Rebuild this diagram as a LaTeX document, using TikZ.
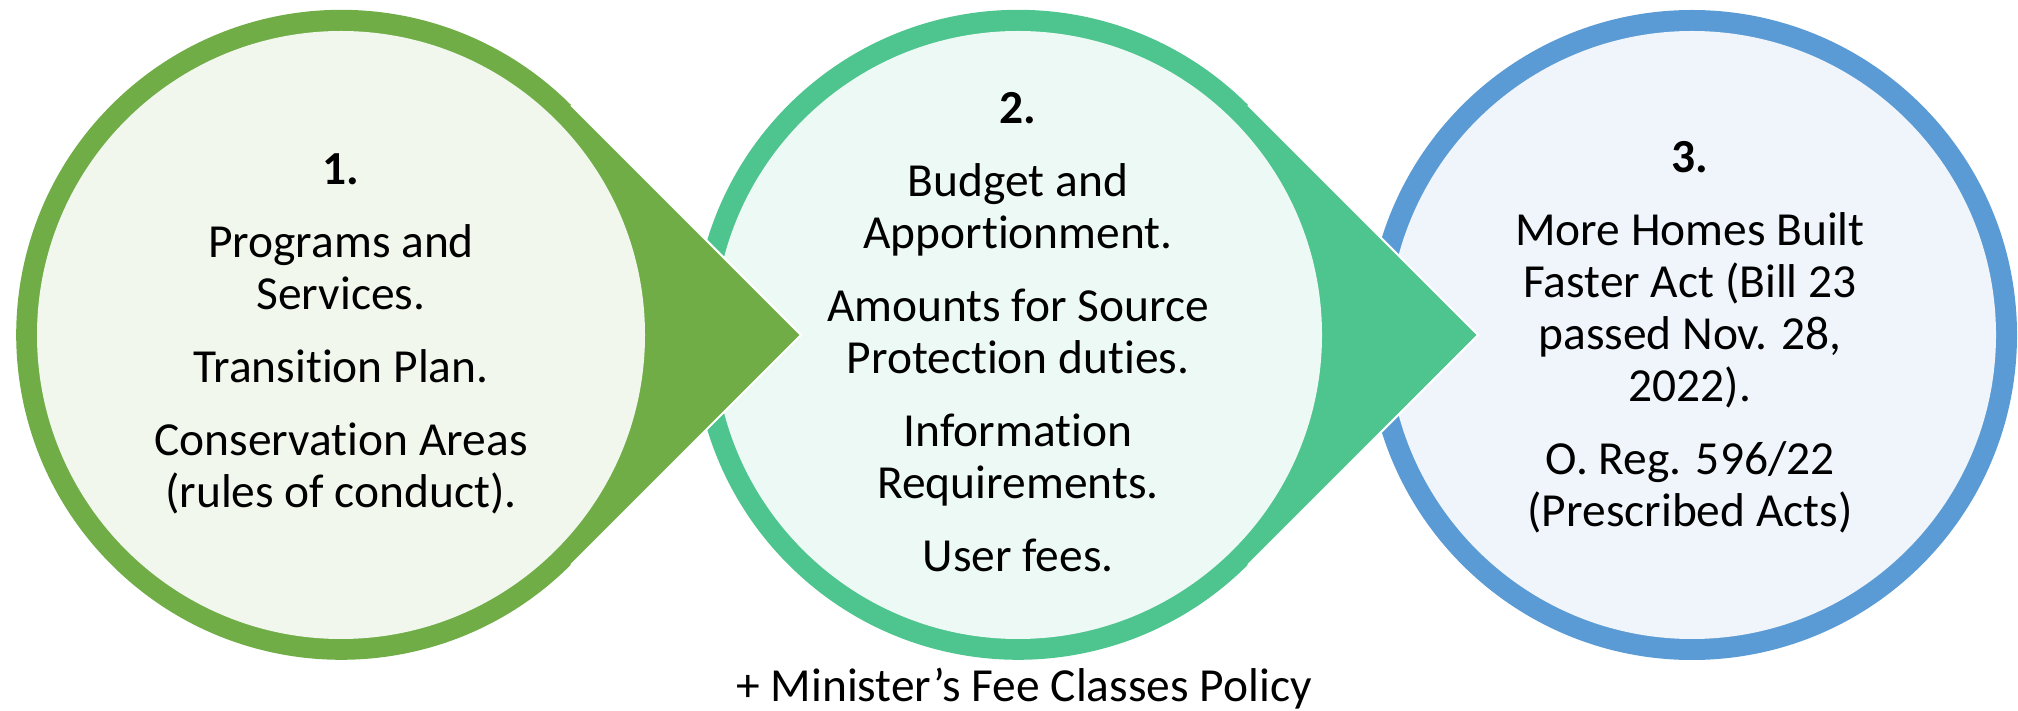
\documentclass[tikz,border=0pt]{standalone}
\usepackage{fontspec}
\setmainfont{Carlito}[Ligatures={NoCommon,NoContextual}]
\usetikzlibrary{positioning}

\begin{document}
\begin{tikzpicture}[x=0.02cm, y=0.02cm,
    circletext/.style={align=center, inner sep=0pt, font=\fontsize{27}{29.6}\selectfont},
    tipedge/.style={draw=white, line width=1.2pt, line join=miter}]
    % Colors of the rings
    \definecolor{ring1}{RGB}{112, 173, 71}
    \definecolor{ring2}{RGB}{78, 196, 142}
    \definecolor{ring3}{RGB}{91, 155, 213}

    \useasboundingbox (0,0) rectangle (2018,710);

    % Circle 3 (at the back)
    \fill[ring3] (1692,375) circle (325);
    \fill[ring3!10] (1692,375) circle (304);

    % Circle 2 and its point
    \fill[ring2] (1478,375) -- (1248,605) arc[start angle=45, end angle=315, radius=325] -- cycle;
    \draw[tipedge] (1248,605) -- (1478,375) -- (1248,145);
    \fill[ring2!10] (1018,375) circle (304);

    % Circle 1 and its point
    \fill[ring1] (801,375) -- (571,605) arc[start angle=45, end angle=315, radius=325] -- cycle;
    \draw[tipedge] (571,605) -- (801,375) -- (571,145);
    \fill[ring1!10] (341,375) circle (304);

    % Texts within the circles
    \node[circletext] (step1) at (341,376) {\textbf{1.}\\[0.42cm]
      Programs and\\ Services.\\[0.42cm]
      Transition Plan.\\[0.42cm]
      Conservation Areas\\ (rules of conduct).};
    \node[circletext] (step2) at (1018,378) {\textbf{2.}\\[0.42cm]
      Budget and\\ Apportionment.\\[0.42cm]
      Amounts for Source\\ Protection duties.\\[0.42cm]
      Information\\ Requirements.\\[0.42cm]
      User fees.};
    \node[circletext] (step3) at (1690,373) {\textbf{3.}\\[0.42cm]
      More Homes Built\\ Faster Act (Bill 23\\ passed Nov. 28,\\ 2022).\\[0.42cm]
      O. Reg. 596/22\\ (Prescribed Acts)};

    % Note below circle 2
    \node[circletext, anchor=base] (policy) at (1024,9) {+ Minister’s Fee Classes Policy};
\end{tikzpicture}
\end{document}
